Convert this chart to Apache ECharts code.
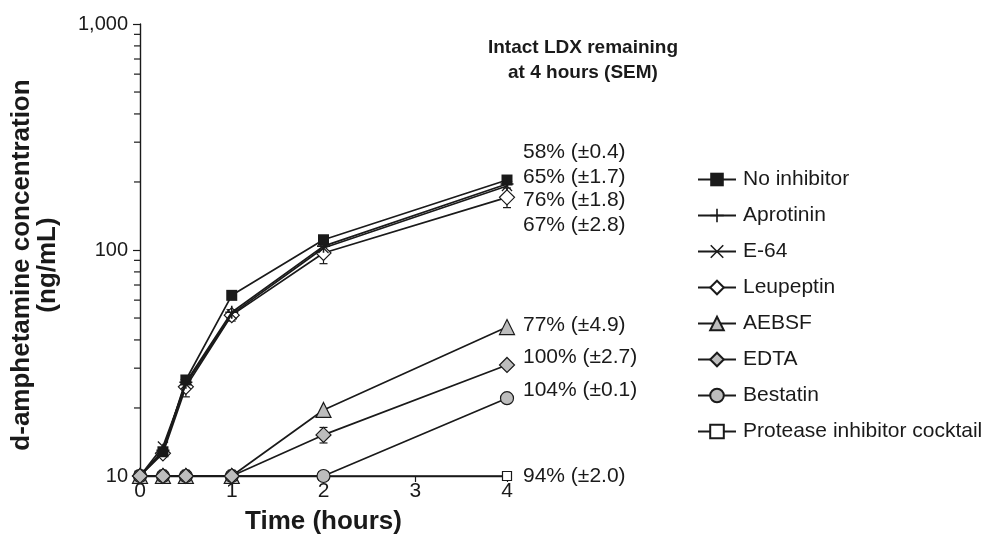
<!DOCTYPE html>
<html>
<head>
<meta charset="utf-8">
<script src="https://cdn.jsdelivr.net/npm/echarts@6/dist/echarts.min.js"></script>
<style>
html,body{margin:0;padding:0;background:#fff;}
#chart{width:987px;height:535px;}
</style>
</head>
<body>
<div id="chart"></div>
<script>
// ---- data ----
const times = [0, 0.25, 0.5, 1, 2, 4];
const seriesNames = ['No inhibitor','Aprotinin','E-64','Leupeptin','AEBSF','EDTA','Bestatin','Protease inhibitor cocktail'];
const noInhibitor = [10, 12.8, 26.6, 63, 111, 204];
const aprotinin   = [10, 13.0, 26.0, 53, 104, 196];
const e64         = [10, 13.5, 25.5, 52, 102, 192];
const leupeptin   = [10, 12.6, 24.8, 51.5, 97, 171];
const aebsf       = [10, 10, 10, 10, 19.6, 45.6];
const edta        = [10, 10, 10, 10, 15.2, 31];
const bestatin    = [10, 10, 10, 10, 10, 22.1];
const cocktail    = [10, 10, 10, 10, 10, 10];
const leupeptinSem = [0, 0.4, 2.4, 3.0, 10, 17];
const edtaSem      = [0.6, 0.6, 0.6, 0.6, 1.2, 0.8];
const xTicks = [0, 1, 2, 3, 4];
const yMinorTicks = [20,30,40,50,60,70,80,90,200,300,400,500,600,700,800,900];
const annotationTexts = ['58% (±0.4)','65% (±1.7)','76% (±1.8)','67% (±2.8)','77% (±4.9)','100% (±2.7)','104% (±0.1)','94% (±2.0)'];
const headingText = 'Intact LDX remaining\nat 4 hours (SEM)';
const yTitle = 'd-amphetamine concentration\n(ng/mL)';
const xTitle = 'Time (hours)';

// ---- styles ----
const INK = '#1a1a1a';
const GRAY = '#bdbdbd';
const FONT = 'Liberation Sans, Arial, Helvetica, sans-serif';
const plusPath = 'path://M4.4,0 L5.6,0 L5.6,4.4 L10,4.4 L10,5.6 L5.6,5.6 L5.6,10 L4.4,10 L4.4,5.6 L0,5.6 L0,4.4 L4.4,4.4 Z';
const crossPath = 'path://M0.8,0 L5,4.2 L9.2,0 L10,0.8 L5.8,5 L10,9.2 L9.2,10 L5,5.8 L0.8,10 L0,9.2 L4.2,5 L0,0.8 Z';

function pairs(vals){ return times.map((t,i)=>[t, vals[i]]); }

function lineSeries(name, vals, symbol, size, fill, z){
  return {
    name: name, type: 'line', data: pairs(vals),
    symbol: symbol, symbolSize: size, showSymbol: true,
    lineStyle: {color: INK, width: 1.7},
    itemStyle: {color: fill, borderColor: INK, borderWidth: (fill === INK ? 0 : 1.2)},
    z: z, animation: false, emphasis: {disabled: true}
  };
}

function errBarSeries(vals, sems, z){
  const data = times.map((t,i)=>[t, vals[i]-sems[i], vals[i]+sems[i]]);
  return {
    type: 'custom', data: data, z: z, silent: true, animation: false, clip: false,
    renderItem: function(params, api){
      const x = api.value(0);
      const lo = api.coord([x, api.value(1)]);
      const hi = api.coord([x, api.value(2)]);
      const w = 4;
      const st = {stroke: INK, lineWidth: 1.2};
      return {type: 'group', children: [
        {type:'line', shape:{x1:lo[0],y1:lo[1],x2:hi[0],y2:hi[1]}, style: st},
        {type:'line', shape:{x1:lo[0]-w,y1:lo[1],x2:lo[0]+w,y2:lo[1]}, style: st},
        {type:'line', shape:{x1:hi[0]-w,y1:hi[1],x2:hi[0]+w,y2:hi[1]}, style: st}
      ]};
    }
  };
}

const minorTickSeries = {
  type: 'custom', data: yMinorTicks.map(v=>[0, v]), silent: true, animation: false, clip: false, z: 20,
  renderItem: function(params, api){
    const p = api.coord([api.value(0), api.value(1)]);
    return {type:'line', shape:{x1:p[0]-6, y1:p[1], x2:p[0], y2:p[1]}, style:{stroke: INK, lineWidth: 1.2}};
  }
};

const annotationTops = [152, 177, 200, 225, 325, 357, 390, 476];
const graphics = annotationTexts.map((t,i)=>({
  type: 'text', x: 523, y: annotationTops[i],
  style: {text: t, fill: INK, font: '21px ' + FONT, verticalAlign: 'middle', align: 'left'}
}));
graphics.push({
  type: 'text', x: 583, y: 60,
  style: {text: headingText, fill: INK, font: 'bold 19px ' + FONT, align: 'center', verticalAlign: 'middle', lineHeight: 25}
});
graphics.push({
  type: 'text', x: 35, y: 265, rotation: Math.PI / 2,
  style: {text: yTitle, fill: INK, font: 'bold 26px ' + FONT, align: 'center', verticalAlign: 'middle', lineHeight: 26}
});

const chart = echarts.init(document.getElementById('chart'), null, {renderer: 'canvas'});
chart.setOption({
  animation: false,
  backgroundColor: '#fff',
  grid: {left: 140, right: 480, top: 24, bottom: 59, containLabel: false, outerBoundsMode: 'none'},
  xAxis: {
    type: 'value', min: 0, max: 4, interval: 1,
    axisLine: {show: true, lineStyle: {color: INK, width: 1.4}},
    axisTick: {show: true, length: 6, inside: false, lineStyle: {color: INK, width: 1.2}},
    splitLine: {show: false},
    axisLabel: {color: INK, fontSize: 21, fontFamily: FONT, margin: 5,
      formatter: v => xTicks.includes(v) ? String(v) : ''},
    name: xTitle, nameLocation: 'middle', nameGap: 33,
    nameTextStyle: {color: INK, fontSize: 26, fontWeight: 'bold', fontFamily: FONT}
  },
  yAxis: {
    type: 'log', logBase: 10, min: 10, max: 1000,
    axisLine: {show: true, lineStyle: {color: INK, width: 1.4}},
    axisTick: {show: true, length: 7, lineStyle: {color: INK, width: 1.2}},
    splitLine: {show: false},
    minorTick: {show: false},
    axisLabel: {color: INK, fontSize: 20, fontFamily: FONT, margin: 12,
      formatter: v => Number(v).toLocaleString('en-US')}
  },
  legend: {
    orient: 'vertical', left: 697, top: 169, padding: 0, itemGap: 15,
    itemWidth: 38, itemHeight: 17,
    data: seriesNames,
    textStyle: {color: INK, fontSize: 21, fontFamily: FONT, padding: [0, 0, 0, 2]},
    selectedMode: false
  },
  series: [
    lineSeries(seriesNames[0], noInhibitor, 'rect', 11, INK, 5),
    lineSeries(seriesNames[1], aprotinin, plusPath, 13, INK, 5),
    lineSeries(seriesNames[2], e64, crossPath, 11, INK, 5),
    lineSeries(seriesNames[3], leupeptin, 'diamond', 15, '#fff', 4),
    lineSeries(seriesNames[4], aebsf, 'triangle', 15, GRAY, 8),
    lineSeries(seriesNames[5], edta, 'diamond', 15, GRAY, 9),
    lineSeries(seriesNames[6], bestatin, 'circle', 13, GRAY, 8),
    lineSeries(seriesNames[7], cocktail, 'rect', 9, '#fff', 3),
    errBarSeries(leupeptin, leupeptinSem, 3),
    errBarSeries(edta, edtaSem, 7),
    minorTickSeries
  ],
  graphic: graphics
});
</script>
</body>
</html>
